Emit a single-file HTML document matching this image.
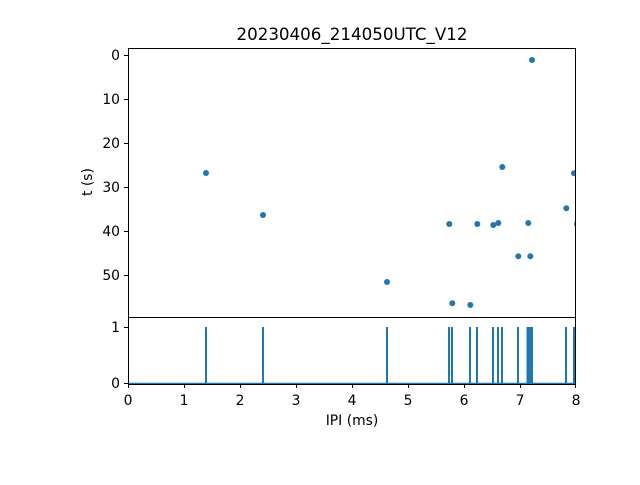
<!DOCTYPE html><html><head><style>body{margin:0;background:#fff}</style></head><body>
<svg width="640" height="480" xmlns="http://www.w3.org/2000/svg" font-family="DejaVu Sans, Liberation Sans, sans-serif">
<rect width="640" height="480" fill="#fff"/>
<text x="352" y="40" font-size="16.7" text-anchor="middle">20230406_214050UTC_V12</text>
<defs><clipPath id="c"><rect x="128" y="48" width="448" height="269"/></clipPath></defs>
<g clip-path="url(#c)" fill="#1f77b4">
<circle cx="206" cy="173" r="3"/><circle cx="263" cy="215" r="3"/><circle cx="387" cy="282" r="3"/>
<circle cx="449.3" cy="224" r="3"/><circle cx="452.3" cy="303.3" r="3"/><circle cx="470.3" cy="305" r="3"/>
<circle cx="477.3" cy="224" r="3"/><circle cx="493.3" cy="225" r="3"/><circle cx="498.3" cy="223" r="3"/>
<circle cx="502.3" cy="167" r="3"/><circle cx="518.3" cy="256.3" r="3"/><circle cx="528.3" cy="223" r="3"/>
<circle cx="530.3" cy="256.3" r="3"/><circle cx="532" cy="60" r="3"/><circle cx="566.3" cy="208.3" r="3"/>
<circle cx="574" cy="173.3" r="3"/><circle cx="577" cy="224" r="3"/>
</g>
<g stroke="#1f77b4" stroke-width="2" fill="none">
<line x1="128" y1="383.5" x2="576" y2="383.5" stroke-width="1.5"/>
<path d="M206 384V327M263 384V327M387 384V327M449 384V327M452 384V327M470 384V327M477 384V327M493 384V327M498 384V327M502 384V327M518 384V327M527.5 384V327M529 384V327M530.5 384V327M532 384V327M566 384V327M574 384V327"/>
</g>
<g stroke="#000" fill="none" stroke-width="1">
<path d="M128.5 48.5H575.5V384.5H128.5Z"/>
<path d="M128.5 317.5H575.5"/>
<path d="M128 55.5h-4M128 99.5h-4M128 143.5h-4M128 187.5h-4M128 231.5h-4M128 275.5h-4M128 327.5h-4M128 383.5h-4"/>
<path d="M128.5 384v4M184.5 384v4M240.5 384v4M296.5 384v4M352.5 384v4M408.5 384v4M464.5 384v4M520.5 384v4M575.5 384v4"/>
</g>
<g font-size="13.9" text-anchor="end">
<text x="120" y="60">0</text><text x="120" y="104">10</text><text x="120" y="148">20</text><text x="120" y="192">30</text><text x="120" y="236">40</text><text x="120" y="280">50</text>
<text x="120" y="332">1</text><text x="120" y="388">0</text>
</g>
<g font-size="13.9" text-anchor="middle">
<text x="128" y="405">0</text><text x="184" y="405">1</text><text x="240" y="405">2</text><text x="296" y="405">3</text><text x="352" y="405">4</text><text x="408" y="405">5</text><text x="464" y="405">6</text><text x="520" y="405">7</text><text x="576" y="405">8</text>
<text x="352" y="425">IPI (ms)</text>
</g>
<text transform="translate(92,182) rotate(-90)" font-size="13.9" text-anchor="middle">t (s)</text>
</svg>
</body></html>
